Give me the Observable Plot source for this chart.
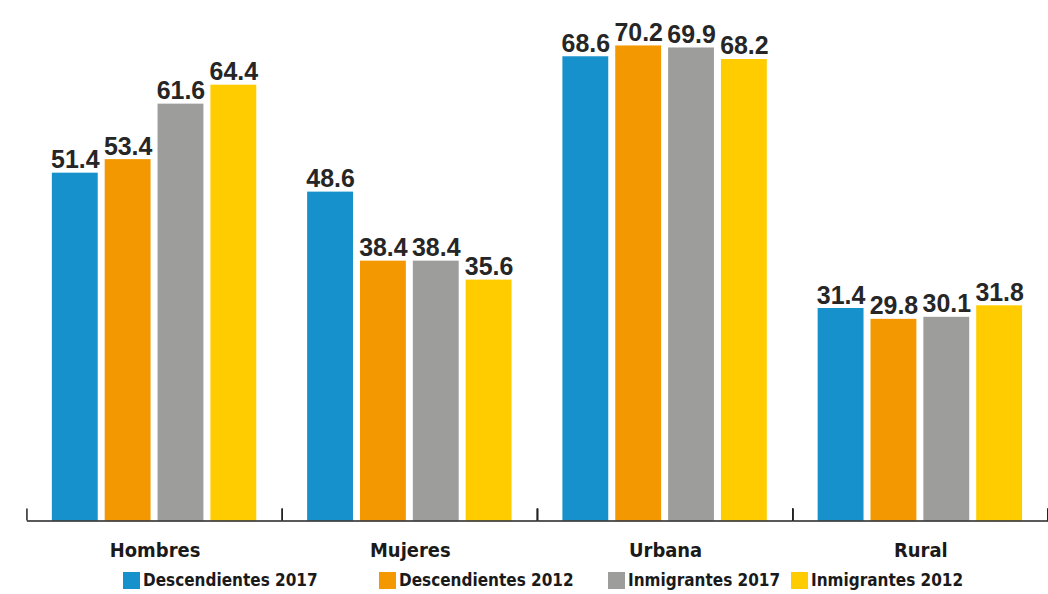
<!DOCTYPE html>
<html>
<head>
<meta charset="utf-8">
<script src="https://cdn.jsdelivr.net/npm/d3@7"></script>
<script src="https://cdn.jsdelivr.net/npm/@observablehq/plot@0.6"></script>
<style>
  html, body { margin: 0; padding: 0; overflow: hidden; background: #fff; }
  #chart { position: relative; width: 1048px; height: 594px; overflow: hidden; }
  .legend { position: relative; height: 26px; font-family: "DejaVu Sans Condensed", "DejaVu Sans", sans-serif; font-stretch: condensed; font-weight: bold; font-size: 17px; color: #1a1a1a; }
  .legend .item { position: absolute; top: 4px; display: flex; align-items: center; white-space: nowrap; }
  .legend .sw { width: 17px; height: 17px; margin-right: 3px; display: inline-block; }
</style>
</head>
<body>
<div id="chart"></div>
<script>
const categories = ["Hombres", "Mujeres", "Urbana", "Rural"];
const series = ["Descendientes 2017", "Descendientes 2012", "Inmigrantes 2017", "Inmigrantes 2012"];
const colors = ["#1791cb", "#f39800", "#9d9d9c", "#ffcc00"];
const descendientes2017 = [51.4, 48.6, 68.6, 31.4];
const descendientes2012 = [53.4, 38.4, 70.2, 29.8];
const inmigrantes2017 = [61.6, 38.4, 69.9, 30.1];
const inmigrantes2012 = [64.4, 35.6, 68.2, 31.8];
const legendLeft = [123, 379, 608, 791];

const valuesBySeries = [descendientes2017, descendientes2012, inmigrantes2017, inmigrantes2012];
const data = [];
categories.forEach((c, ci) => {
  series.forEach((s, si) => {
    data.push({category: c, series: s, value: valuesBySeries[si][ci]});
  });
});

const edgeTicks = (index, scales, values, dimensions) => {
  const g = d3.create("svg:g").attr("stroke", "#222").attr("stroke-width", 1.5);
  const {marginLeft, marginRight, width, height, marginBottom} = dimensions;
  const y0 = scales.y ? scales.y(0) : height - marginBottom;
  categories.forEach((c, i) => {
    const x = scales.fx ? scales.fx(c) : marginLeft + i * (width - marginLeft - marginRight) / categories.length;
    g.append("line").attr("x1", x).attr("x2", x).attr("y1", y0 - 12).attr("y2", y0);
  });
  return g.node();
};

const plot = Plot.plot({
  width: 1051,
  height: 568,
  marginLeft: 27,
  marginRight: 0,
  marginTop: 13,
  marginBottom: 46,
  style: {
    fontFamily: '"DejaVu Sans Condensed", "DejaVu Sans", sans-serif',
    fontStretch: "condensed",
    fontWeight: "bold",
    fontSize: "20px",
    color: "#1a1a1a",
    background: "#fff",
    overflow: "visible"
  },
  fx: {domain: categories, padding: 0, label: null, tickSize: 0, tickPadding: 22},
  x: {domain: series, paddingInner: 0.132, paddingOuter: 0.481, axis: null},
  y: {domain: [0, 75], axis: null},
  color: {domain: series, range: colors},
  marks: [
    Plot.barY(data, {fx: "category", x: "series", y: "value", fill: "series"}),
    Plot.text(data, {
      fx: "category", x: "series", y: "value",
      text: d => d.value.toFixed(1),
      lineAnchor: "bottom", dy: -5,
      fontSize: 25, fontWeight: "bold",
      fontFamily: '"Liberation Sans Narrow", "Arial Narrow", sans-serif',
      fill: "#262626"
    }),
    Plot.ruleY([0], {stroke: "#222", strokeWidth: 1.5}),
    edgeTicks
  ]
});

const chart = document.getElementById("chart");
chart.appendChild(plot);

const legend = document.createElement("div");
legend.className = "legend";
series.forEach((s, i) => {
  const item = document.createElement("div");
  item.className = "item";
  item.style.left = legendLeft[i] + "px";
  const sw = document.createElement("span");
  sw.className = "sw";
  sw.style.background = colors[i];
  const t = document.createElement("span");
  t.textContent = s;
  item.appendChild(sw);
  item.appendChild(t);
  legend.appendChild(item);
});
chart.appendChild(legend);
</script>
</body>
</html>
